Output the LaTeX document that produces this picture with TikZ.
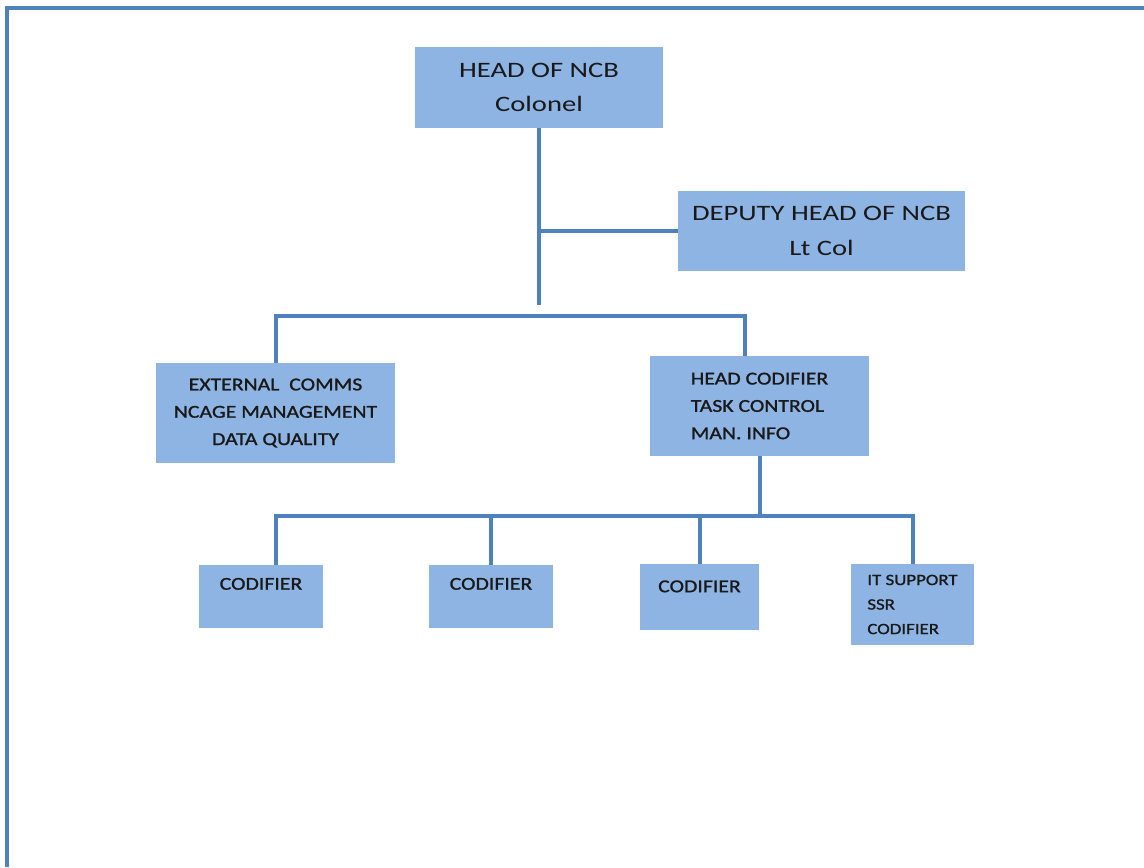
\documentclass[tikz,border=0pt]{standalone}
\usepackage{fontspec}
\setmainfont{Carlito}
\newfontfamily\bigfont{Carlito}[FakeStretch=1.3]
\newfontfamily\smallfont{Carlito}[FakeStretch=1.2, FakeBold=1.2]
\usepackage{tikz}
\usetikzlibrary{positioning}
\definecolor{boxblue}{HTML}{8EB4E3}
\definecolor{lineblue}{HTML}{4F81BD}

\begin{document}
\begin{tikzpicture}[
    x=0.75pt, y=-0.75pt,
    box/.style={fill=boxblue, inner sep=0pt, align=center, text=black!90},
    big/.style={box, font=\bigfont\fontsize{16.5}{26}\selectfont},
    small/.style={box, font=\smallfont\fontsize{13.6}{20.5}\selectfont},
    codbox/.style={small, minimum width=93pt, minimum height=47.25pt, text depth=19pt},
    link/.style={draw=lineblue, line width=3pt}
  ]
    \useasboundingbox (0,0) rectangle (1144,867);
    \draw[lineblue, line width=2.4pt] (7,867) -- (7,8) -- (1144,8);

    \node[big, minimum width=186pt, minimum height=60.75pt] (head) at (539,87.5) {HEAD OF NCB\\Colonel};
    \node[big, minimum width=215.25pt, minimum height=60pt] (dep) at (821.5,231) {DEPUTY HEAD OF NCB\\Lt Col};
    \node[small, minimum width=179.25pt, minimum height=75pt] (ext) at (275.5,413) {EXTERNAL\ \ COMMS\\NCAGE MANAGEMENT\\DATA QUALITY};
    \node[small, align=left, minimum width=164.25pt, minimum height=75pt] (hc) at (759.5,406) {HEAD CODIFIER\\TASK CONTROL\\MAN. INFO};
    \node[codbox] (c1) at (261,596.5) {CODIFIER};
    \node[codbox] (c2) at (491,596.5) {CODIFIER};
    \node[codbox, minimum width=89.25pt, minimum height=49.5pt, text depth=16pt] (c3) at (699.5,597) {CODIFIER};
    \node[small, align=left, font=\smallfont\fontsize{11.8}{18.4}\selectfont, minimum width=92.25pt, minimum height=60.75pt] (it) at (912.5,604.5) {IT SUPPORT\\SSR\\CODIFIER};

    \coordinate (stem) at (540,305);
    \coordinate (bar) at (540,316);
    \coordinate (bar2) at (759,516);
    \draw[link] (head.south) -- (head.south |- stem);
    \draw[link] (head.south |- dep.west) -- (dep.west);
    \draw[link] (ext.north) |- (bar) -| ([xshift=-10.9pt]hc.north);
    \draw[link] (hc.south) -- (hc.south |- bar2);
    \draw[link] ([xshift=11.25pt]c1.north) |- (it.north |- bar2) -- (it.north);
    \draw[link] (c2.north) -- (c2.north |- bar2);
    \draw[link] (c3.north) -- (c3.north |- bar2);
  \end{tikzpicture}
\end{document}
